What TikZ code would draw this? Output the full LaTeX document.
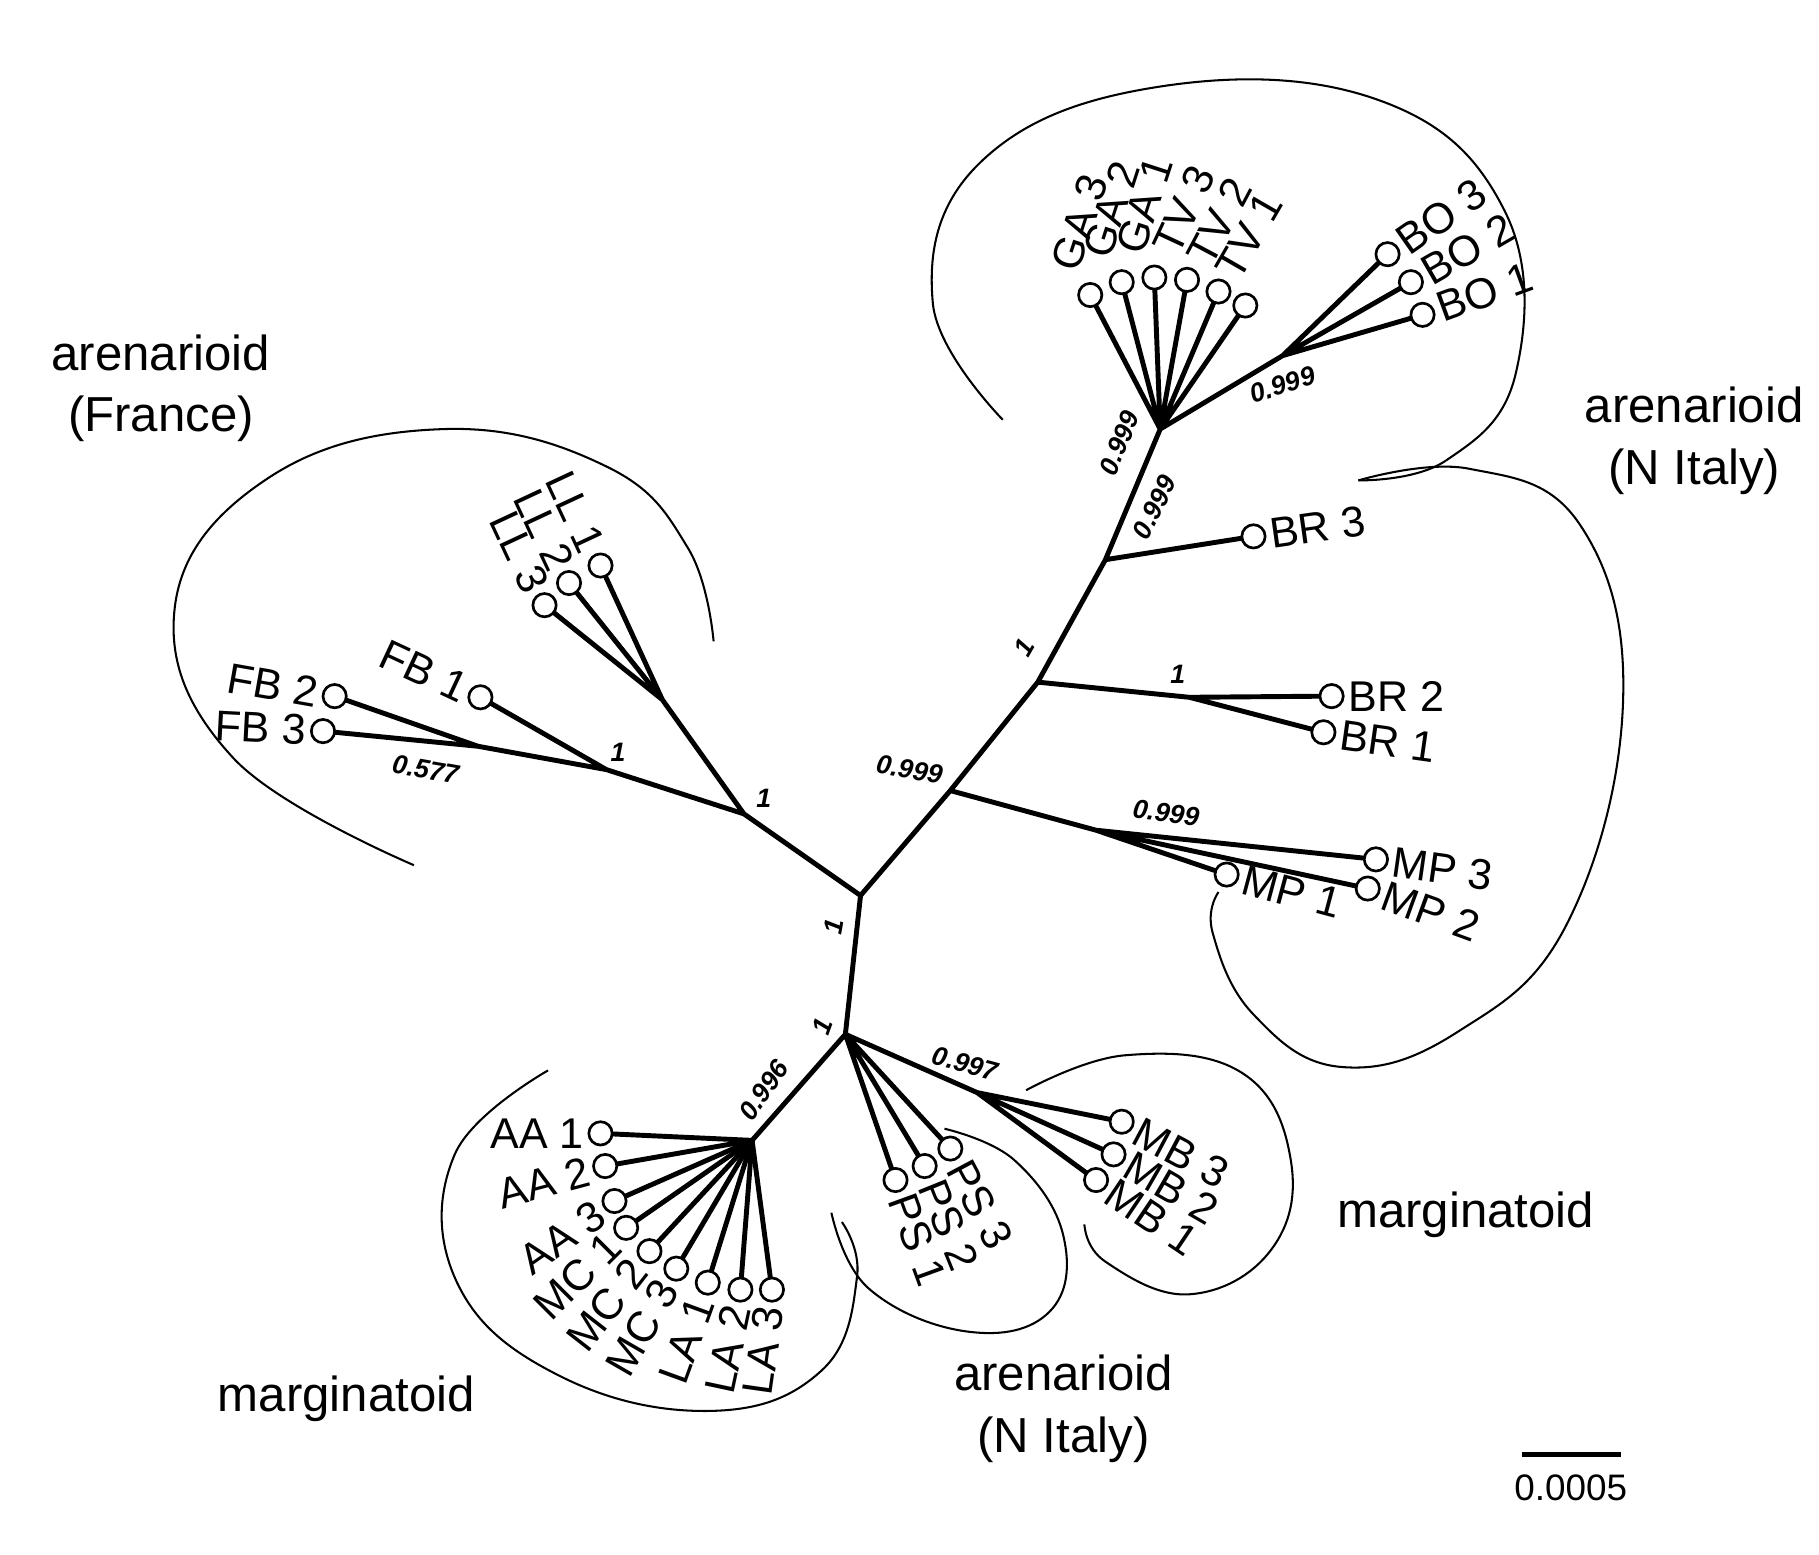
\documentclass[tikz,border=0pt]{standalone}
\usepackage{fontspec}
\setmainfont{Liberation Sans}
\begin{document}
\begin{tikzpicture}[x=0.02cm,y=-0.02cm,
  br/.style={line width=2.4pt,line cap=round},
  leaf/.style={circle,draw,line width=1.3pt,fill=white,minimum size=0.4cm,inner sep=0pt},
  lab/.style={font=\fontsize{21}{22}\selectfont,inner sep=2pt},
  sup/.style={font=\bfseries\itshape\fontsize{13}{14}\selectfont},
  grp/.style={font=\fontsize{24}{30}\selectfont,align=center},
  hull/.style={line width=1pt}]
\useasboundingbox (0,0) rectangle (1560,1333);
\coordinate (c) at (738,768); \coordinate (nf) at (638,698);
\coordinate (fb) at (520,660); \coordinate (fbs) at (410,640); \coordinate (ll) at (568,600);
\coordinate (mp) at (815,678); \coordinate (mps) at (940,712); \coordinate (br) at (890,585);
\coordinate (brs) at (1020,598); \coordinate (b3) at (948,480); \coordinate (ga) at (995,368);
\coordinate (bo) at (1100,305); \coordinate (m) at (725,887); \coordinate (aa) at (645,978);
\coordinate (mb) at (838,937);
\foreach \n/\p in {FB2/{287,597},FB3/{277,627},FB1/{412,598},LL3/{467,519},LL2/{488,500},LL1/{515,485},
 GA3/{935,253},GA2/{962,242},GA1/{990,238},TV3/{1018,240},TV2/{1045,250},TV1/{1068,262},
 BO3/{1190,218},BO2/{1210,242},BO1/{1220,270},BR3/{1075,460},BR2/{1142,597},BR1/{1135,628},
 MP3/{1180,737},MP2/{1173,762},MP1/{1052,750},
 AA1/{515,972},AA2/{519,1000},AA3/{527,1030},MC1/{537,1053},MC2/{557,1073},MC3/{580,1088},
 LA1/{607,1100},LA2/{635,1106},LA3/{662,1106},PS1/{768,1012},PS2/{793,1000},PS3/{815,985},
 MB3/{962,962},MB2/{955,990},MB1/{940,1012}}
 \coordinate (\n) at (\p);
\draw[br] (c)--(nf) (nf)--(fb) (nf)--(ll) (fb)--(fbs) (fbs)--(FB2) (fbs)--(FB3) (fb)--(FB1)
 (ll)--(LL3) (ll)--(LL2) (ll)--(LL1)
 (c)--(mp)--(br)--(b3)--(ga) (mp)--(mps) (mps)--(MP3) (mps)--(MP2) (mps)--(MP1)
 (br)--(brs) (brs)--(BR2) (brs)--(BR1) (b3)--(BR3)
 (ga)--(GA3) (ga)--(GA2) (ga)--(GA1) (ga)--(TV3) (ga)--(TV2) (ga)--(TV1)
 (ga)--(bo) (bo)--(BO3) (bo)--(BO2) (bo)--(BO1)
 (c)--(m)--(aa) (m)--(PS1) (m)--(PS2) (m)--(PS3) (m)--(mb) (mb)--(MB3) (mb)--(MB2) (mb)--(MB1);
\foreach \n in {AA1,AA2,AA3,MC1,MC2,MC3,LA1,LA2,LA3} \draw[br] (aa)--(\n);
\foreach \n/\t/\r/\a in {FB2/FB 2/-10/east,FB3/FB 3/-3/east,FB1/FB 1/-25/east,
 LL3/LL 3/-65/east,LL2/LL 2/-65/east,LL1/LL 1/-65/east,
 GA3/GA 3/72/south west,GA2/GA 2/72/south west,GA1/GA 1/72/south west,TV3/TV 3/65/south west,TV2/TV 2/62/south west,TV1/TV 1/60/south west,
 BO3/BO 3/35/west,BO2/BO 2/30/west,BO1/BO 1/20/west,BR3/BR 3/8/west,BR2/BR 2/0/west,BR1/BR 1/-8/west,
 MP3/MP 3/-8/west,MP2/MP 2/-20/west,MP1/MP 1/-15/west,
 AA1/AA 1/0/east,AA2/AA 2/15/east,AA3/AA 3/35/east,MC1/MC 1/45/east,MC2/MC 2/52/east,MC3/MC 3/60/east,
 LA1/LA 1/70/east,LA2/LA 2/78/east,LA3/LA 3/82/east,
 PS1/PS 1/-70/west,PS2/PS 2/-68/west,PS3/PS 3/-62/west,MB3/MB 3/-28/west,MB2/MB 2/-30/west,MB1/MB 1/-34/west}
 {\node[leaf] (L\n) at (\n) {};
  \path (L\n) node[lab,rotate=\r,anchor=\a,outer sep=0.22cm] {\t};}
\node[sup] at (530,645) {1};
\node[sup,rotate=-10] at (365,660) {0.577};
\node[sup] at (655,685) {1};
\node[sup,rotate=-10] at (780,660) {0.999};
\node[sup,rotate=60] at (878,555) {1};
\node[sup,rotate=63] at (990,435) {0.999};
\node[sup,rotate=68] at (960,380) {0.999};
\node[sup,rotate=18] at (1100,330) {0.999};
\node[sup] at (1010,578) {1};
\node[sup,rotate=-8] at (1000,697) {0.999};
\node[sup,rotate=80] at (715,795) {1};
\node[sup,rotate=70] at (705,880) {1};
\node[sup,rotate=55] at (655,935) {0.996};
\node[sup,rotate=-15] at (828,912) {0.997};
\draw[hull] plot[smooth,tension=0.7] coordinates {(355,742) (200,650) (150,520) (230,410) (380,368) (520,400) (590,470) (612,550)};
\draw[hull] plot[smooth,tension=0.7] coordinates {(860,360) (800,260) (840,140) (990,75) (1180,85) (1290,180) (1300,320) (1240,395) (1165,412)};
\draw[hull] plot[smooth,tension=0.7] coordinates {(1165,412) (1260,402) (1355,450) (1392,600) (1345,790) (1250,885) (1150,915) (1075,870) (1040,800) (1045,765)};
\draw[hull] plot[smooth,tension=0.7] coordinates {(470,918) (390,990) (392,1100) (480,1180) (610,1210) (705,1175) (735,1095) (722,1048)};
\draw[hull] plot[smooth,tension=0.7] coordinates {(713,1040) (745,1105) (830,1142) (900,1125) (912,1060) (870,995) (810,968)};
\draw[hull] plot[smooth,tension=0.7] coordinates {(880,935) (965,905) (1065,920) (1107,995) (1090,1072) (1020,1110) (948,1082) (930,1050)};
\node[grp] at (138,333) {arenarioid\\(France)};
\node[grp] at (1453,378) {arenarioid\\(N Italy)};
\node[grp] at (1257,1042) {marginatoid};
\node[grp] at (297,1200) {marginatoid};
\node[grp] at (912,1208) {arenarioid\\(N Italy)};
\coordinate (s1) at (1305,1247); \coordinate (s2) at (1390,1247);
\draw[line width=2.4pt] (s1)--(s2);
\node[font=\fontsize{18}{20}\selectfont] at (1347,1276) {0.0005};
\end{tikzpicture}
\end{document}
